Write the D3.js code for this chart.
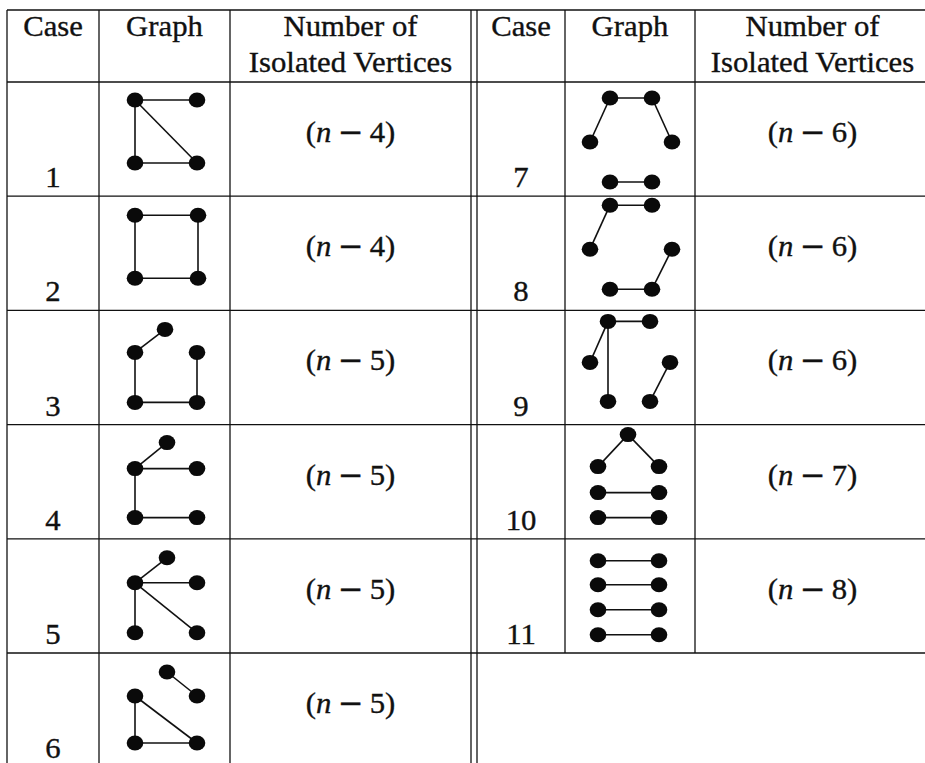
<!DOCTYPE html>
<html>
<head>
<meta charset="utf-8">
<script src="https://cdn.jsdelivr.net/npm/d3@7"></script>
<style>
  body { margin: 0; background: #fff; }
  svg { display: block; }
  text { font-family: "Liberation Serif", serif; font-size: 29px; fill: #111; stroke: #111; stroke-width: 0.35; }
</style>
</head>
<body>
<div id="chart"></div>
<script>
// table content
const headers = [['Case'], ['Graph'], ['Number of', 'Isolated Vertices']];
const cases = [1, 2, 3, 4, 5, 6, 7, 8, 9, 10, 11];
const isolated = [4, 4, 5, 5, 5, 5, 6, 6, 6, 7, 8]; // shown as (n - k)

// graph drawings: node positions inside a 130 x 114 cell, and edges as node index pairs
const graphNodes = [
  [[36, 18], [98, 18], [36, 81], [98, 81]],
  [[36, 19], [99, 19], [36, 82], [99, 82]],
  [[66, 19], [36, 42], [98, 42], [36, 92], [98, 92]],
  [[68, 18], [36, 44], [98, 44], [36, 93], [98, 93]],
  [[68, 19], [36, 44], [98, 44], [36, 94], [98, 94]],
  [[68, 19], [98, 43], [36, 43], [36, 90], [98, 90]],
  [[45, 16], [87, 16], [25, 60], [107, 60], [45, 100], [87, 100]],
  [[45, 9], [87, 9], [25, 53], [107, 53], [45, 93], [87, 93]],
  [[43, 11], [85, 11], [25, 52], [105, 52], [43, 91], [85, 91]],
  [[63, 10], [33, 42], [94, 42], [33, 68], [94, 68], [33, 93], [94, 93]],
  [[33, 22], [94, 22], [33, 46], [94, 46], [33, 71], [94, 71], [33, 96], [94, 96]]
];
const graphEdges = [
  [[0, 1], [0, 2], [0, 3], [2, 3]],
  [[0, 1], [0, 2], [1, 3], [2, 3]],
  [[0, 1], [1, 3], [2, 4], [3, 4]],
  [[1, 0], [1, 2], [1, 3], [3, 4]],
  [[1, 0], [1, 2], [1, 3], [1, 4]],
  [[0, 1], [2, 3], [2, 4], [3, 4]],
  [[0, 1], [0, 2], [1, 3], [4, 5]],
  [[0, 1], [0, 2], [3, 5], [4, 5]],
  [[0, 1], [0, 2], [0, 4], [3, 5]],
  [[0, 1], [0, 2], [3, 4], [5, 6]],
  [[0, 1], [2, 3], [4, 5], [6, 7]]
];

const width = 925;
const height = 763;
const stretch = 1.06; // Computer Modern runs a little wider than Times

const svg = d3.select('#chart').append('svg')
  .attr('width', width)
  .attr('height', height);

const tableTop = 10;
const headBottom = 82;
const rowsPerTable = 6;
const y = d3.scaleLinear().domain([0, 1]).range([headBottom, headBottom + 114.2]);
const tables = [
  { cols: [7, 99, 230, 471], items: d3.range(0, 6) },
  { cols: [477, 565, 695, 930], items: d3.range(6, 11) }
];

const lines = svg.append('g').attr('stroke', '#111').attr('stroke-width', 1.3);

// horizontal rules
[tableTop, headBottom, ...d3.range(1, rowsPerTable).map(y)].forEach(yy => {
  lines.append('line').attr('x1', 7).attr('x2', 930).attr('y1', yy).attr('y2', yy);
});

function stretchedText(g, x, yy, parts) {
  const t = g.append('g').attr('transform', `translate(${x},${yy}) scale(${stretch},1)`)
    .append('text').attr('text-anchor', 'middle');
  parts.forEach(p => {
    t.append('tspan').text(p.text)
      .attr('dx', p.dx || null)
      .style('font-style', p.italic ? 'italic' : null)
      .style('font-family', p.family || null);
  });
  return t;
}

tables.forEach((tb, ti) => {
  // vertical rules; the right table stops after its last row, except the double rule
  const lastRow = y(tb.items.length);
  tb.cols.forEach((x, ci) => {
    const bottom = (ti === 1 && ci > 0) ? lastRow : height + 5;
    lines.append('line').attr('x1', x).attr('x2', x).attr('y1', tableTop).attr('y2', bottom);
  });

  const mid = i => (tb.cols[i] + tb.cols[i + 1]) / 2;
  const txt = svg.append('g');

  headers.forEach((h, i) => {
    h.forEach((line, j) => stretchedText(txt, mid(i), tableTop + 26 + j * 36, [{ text: line }]));
  });

  tb.items.forEach((k, r) => {
    const top = y(r);
    const bottom = y(r + 1);
    stretchedText(txt, mid(0), bottom - 9, [{ text: String(cases[k]) }]);
    stretchedText(txt, mid(2), top + 60, [
      { text: '(' }, { text: 'n', italic: true },
      { text: '\u2212', family: '"DejaVu Serif"', dx: 6 }, { text: isolated[k] + ')', dx: 6 }
    ]);

    const gx = d3.scaleLinear().domain([0, 130]).range([tb.cols[1], tb.cols[1] + 130]);
    const gy = d3.scaleLinear().domain([0, 114]).range([top, top + 114]);
    const nodes = graphNodes[k];
    const g = svg.append('g');

    g.selectAll('line')
      .data(graphEdges[k])
      .join('line')
      .attr('x1', d => gx(nodes[d[0]][0]))
      .attr('y1', d => gy(nodes[d[0]][1]))
      .attr('x2', d => gx(nodes[d[1]][0]))
      .attr('y2', d => gy(nodes[d[1]][1]))
      .attr('stroke', '#111')
      .attr('stroke-width', 1.6);

    g.selectAll('ellipse')
      .data(nodes)
      .join('ellipse')
      .attr('cx', d => gx(d[0]))
      .attr('cy', d => gy(d[1]))
      .attr('rx', 8.3)
      .attr('ry', 7.5)
      .attr('fill', '#0a0a0a');
  });
});
</script>
</body>
</html>
